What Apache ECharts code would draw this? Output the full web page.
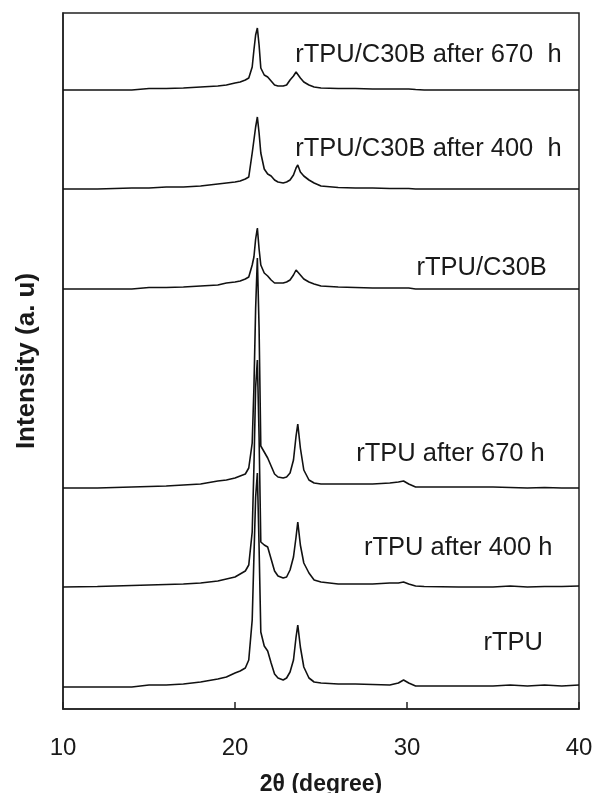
<!DOCTYPE html>
<html><head><meta charset="utf-8">
<script src="https://cdn.jsdelivr.net/npm/echarts@6/dist/echarts.min.js"></script>
<style>html,body{margin:0;padding:0;background:#fff}#c{width:594px;height:793px}</style>
</head><body><div id="c"></div>
<script>
// 2θ positions (degree)
const twoTheta = [10, 12, 14, 15, 16, 17, 18, 19, 19.5, 20,
  20.3, 20.6, 20.8, 21.0, 21.1, 21.2, 21.3, 21.4, 21.5, 21.7,
  21.9, 22.1, 22.3, 22.5, 22.8, 23.0, 23.2, 23.4, 23.55, 23.65,
  23.8, 24.0, 24.3, 24.6, 25, 26, 27, 28, 29, 29.5,
  29.8, 30.1, 30.5, 31, 33, 35, 36, 37, 38, 39, 40];

// intensities (a.u.), each relative to its own baseline
const c30b670 = [0,0,0,1.5,1.5,2,3,4,5,7,
  8,10,12,23,40,55,62,45,22,15,
  13,9,5,4,4,5,10,14,18,20,
  12,8,5,3,2,1.5,1.5,1,1,1,
  1,1,0.5,0,0,0,0,0,0,0,0];
const c30b400 = [0,0,1,1,2,2,3,5,6,7,
  8,10,12,36,49,62,72,56,36,20,
  15,13,9,7,6,7,9,14,21,24,
  17,13,9,6,3,1.5,1,1,0.5,0.5,
  0.5,0.5,0,0,0,0,0,0,0,0,0];
const c30b = [0,0,0,1.5,1.5,2,3,4,6,7,
  8,10,12,24,32,50,61,40,24,16,
  13,9,6,6,6,7,9,14,19,21,
  14,10,7,5,3,2,1.5,1,1,1,
  1,1,0,0,0,0,0,0,0,0,0];
const rtpu670 = [0,0,1,1.5,2,3,4,7,8,10,
  12,14,20,45,100,180,230,160,42,36,
  30,22,14,11,10,11,15,28,52,64,
  40,18,8,5,4,4,4,4,5,6,
  7,4,1,1,1,1,0.5,0,0.5,0,0];
const rtpu400 = [0,0.5,1.5,2,2.5,3,4,6,8,10,
  13,16,22,55,120,200,227,150,45,42,
  40,28,16,11,9,10,17,30,50,65,
  42,24,14,7,5,3,3,3,4,4,
  5,3,1,0.5,0,0,1,0,0.5,0.5,1];
const rtpu = [0,0,0,2,2,3,5,8,10,14,
  16,19,27,67,130,190,214,140,55,41,
  36,24,13,9,7,9,15,27,50,62,
  40,20,9,5,4,3,3,2.5,2,4,
  7,4,1,1,1,1,2,1,2,1,2];

const seriesNames = ['rTPU/C30B after 670 h', 'rTPU/C30B after 400 h', 'rTPU/C30B',
  'rTPU after 670 h', 'rTPU after 400 h', 'rTPU'];
// vertical stacking offsets of each pattern
const offsets = [619, 520, 420, 221, 122, 22];

// annotation texts and their anchor (left end, vertical middle) in data coordinates
const labelTexts = ['rTPU/C30B after 670  h', 'rTPU/C30B after 400  h', 'rTPU/C30B',
  'rTPU after 670 h', 'rTPU after 400 h', 'rTPU'];
const labelX = [23.5, 23.5, 30.55, 27.05, 27.5, 34.45];
const labelY = [654, 560, 441, 255, 161, 66];

const xTicks = [10, 20, 30, 40];

const curves = [c30b670, c30b400, c30b, rtpu670, rtpu400, rtpu];
const FONT = '"Liberation Sans", Arial, Helvetica, sans-serif';

const series = curves.map((vals, i) => ({
  type: 'line',
  name: seriesNames[i],
  data: twoTheta.map((x, j) => [x, offsets[i] + vals[j]]),
  showSymbol: false,
  symbol: 'none',
  lineStyle: { color: '#111', width: 1.6 },
  animation: false,
  z: 3
}));
series.push({
  type: 'scatter',
  symbolSize: 0,
  silent: true,
  animation: false,
  itemStyle: { opacity: 1, color: 'transparent' },
  data: labelTexts.map((t, i) => ({ name: t, value: [labelX[i], labelY[i]] })),
  label: {
    show: true, position: 'right', distance: 0,
    formatter: p => p.name,
    fontSize: 25.5, fontFamily: FONT, color: '#1a1a1a', opacity: 1
  },
  z: 4
});

const chart = echarts.init(document.getElementById('c'), null, { renderer: 'canvas' });
chart.setOption({
  animation: false,
  backgroundColor: '#fff',
  grid: {
    left: 63, right: 15, top: 13, bottom: 84,
    show: true, borderColor: '#222', borderWidth: 1.5,
    outerBoundsMode: 'none', containLabel: false
  },
  xAxis: {
    type: 'value', min: xTicks[0], max: xTicks[xTicks.length - 1], interval: 10,
    axisLine: { show: true, lineStyle: { color: '#222', width: 1.5 } },
    axisTick: { show: true, inside: true, length: 7, lineStyle: { color: '#222', width: 1.5 } },
    axisLabel: { show: true, fontSize: 24, fontFamily: FONT, color: '#1a1a1a', margin: 27,
      showMinLabel: true, showMaxLabel: true, hideOverlap: false },
    splitLine: { show: false },
    name: '2θ (degree)', nameLocation: 'middle', nameGap: 64,
    nameTextStyle: { fontSize: 23, fontWeight: 'bold', fontFamily: FONT, color: '#1a1a1a' }
  },
  yAxis: {
    type: 'value', min: 0, max: 696,
    axisLine: { show: true, lineStyle: { color: '#222', width: 1.5 } },
    axisTick: { show: false },
    axisLabel: { show: false },
    splitLine: { show: false },
    name: 'Intensity (a. u)', nameLocation: 'middle', nameGap: 23,
    nameTextStyle: { fontSize: 26, fontWeight: 'bold', fontFamily: FONT, color: '#1a1a1a' }
  },
  series: series
});
</script>
</body></html>
